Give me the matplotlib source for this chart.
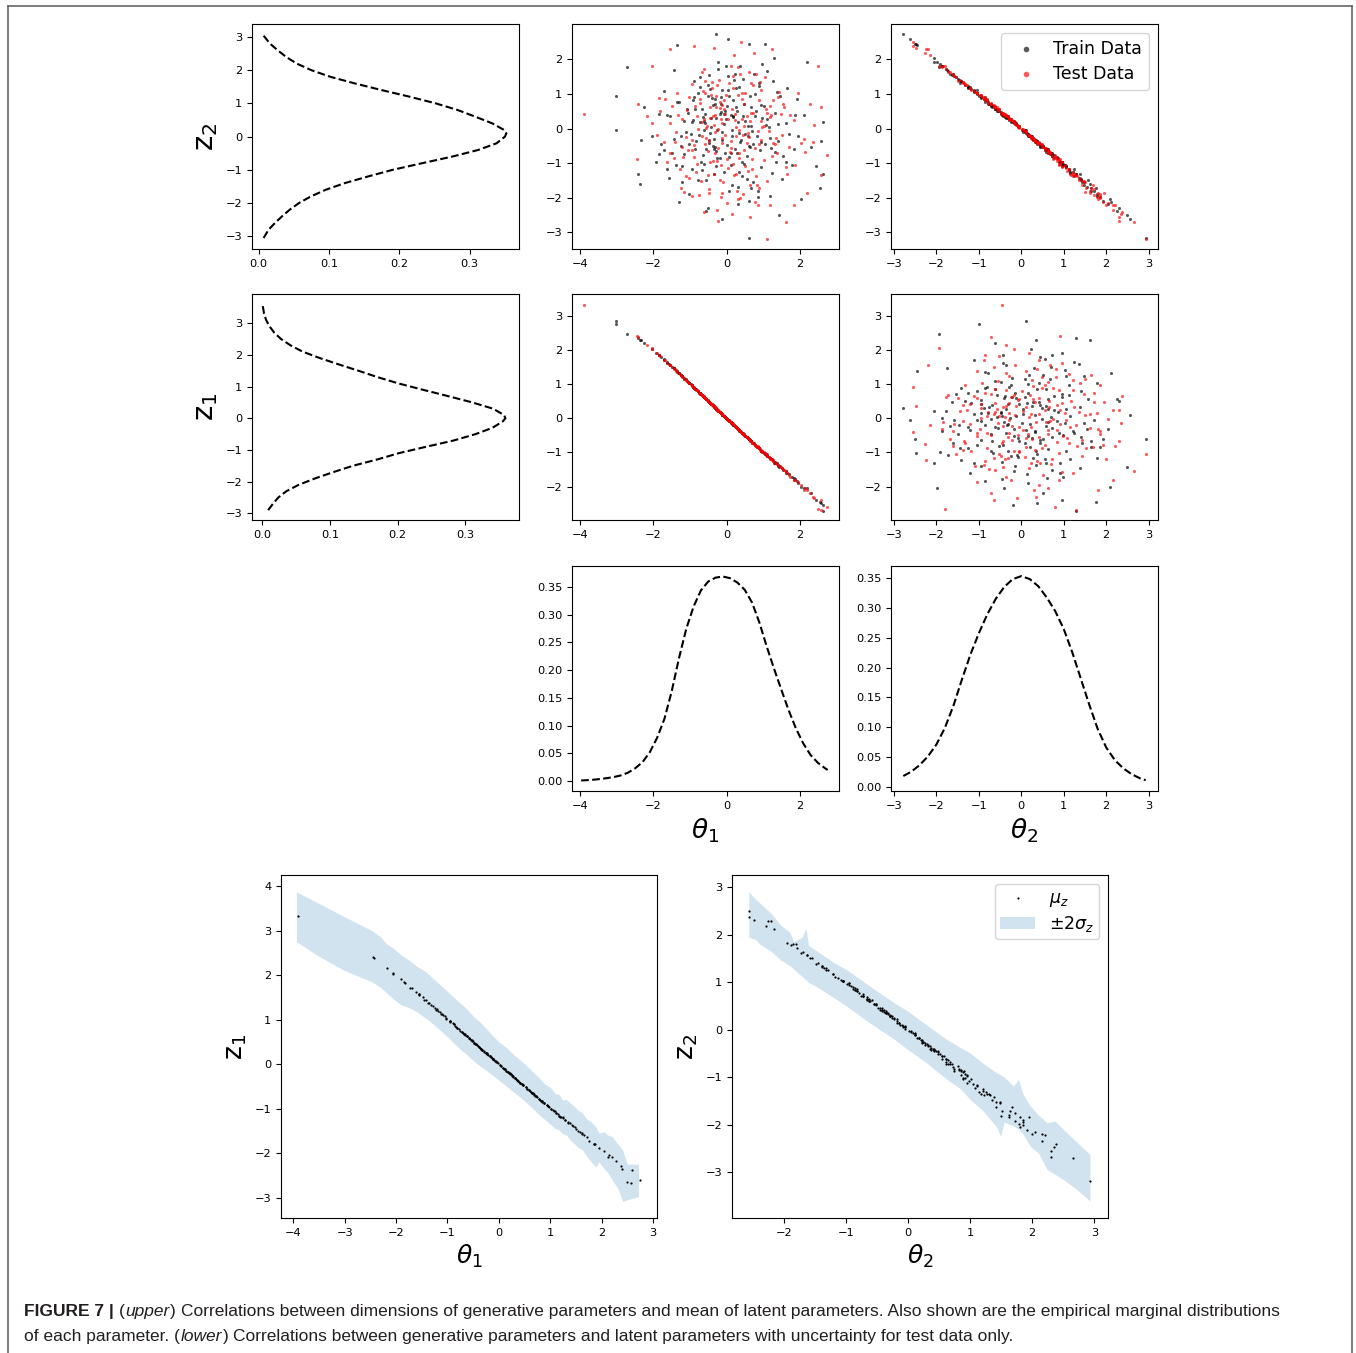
import matplotlib
matplotlib.use("Agg")
import matplotlib.pyplot as plt
from matplotlib.lines import Line2D

# ---------------- data ----------------
# train points: theta1, theta2 (generative params) and z1, z2 (latent means)
tr_t1 = [-3.02, -3.02, -2.72, -2.38, -2.42, -1.35, -0.30, 0.05, 0.62, 1.05,
         2.20, 2.65, 2.60, 2.65, 2.55, 2.05, 1.45, 0.62, -0.12, -1.30,
         -0.50, 1.30,
         -0.42, -0.55, 0.18, 0.73, -1.12, 0.35, -0.08, 1.04, -0.77, 0.52,
         -1.48, 0.21, 1.36, -0.33, 0.89, -1.85, 0.02, -0.61, 1.62, -0.95,
         0.44, -0.19, 1.18, -1.31, 0.67, -0.48, 1.85, -0.26, 0.11, -0.84,
         0.95, -1.62, 0.29, -0.13, 1.47, -0.71, 0.58, -1.05, 0.06, -0.38,
         2.12, -2.05, 0.81, -0.56, 0.37, -1.24, 1.26, -0.02, 0.49, -0.89,
         1.71, -1.71, 0.16, -0.45, 0.92, -0.67, 1.09, -0.22, 0.63, -1.38,
         0.25, -0.98, 1.52, -0.35, 0.74, -1.92, 0.41, -0.15, 1.93, -0.79,
         0.08, -1.16, 0.56, -0.52, 1.22, -0.28, 0.98, -1.55, 0.33, -0.64,
         1.67, -0.11, 0.71, -2.25, 0.13, -0.91, 1.41, -0.43, 0.86, -1.21,
         0.47, -0.05, 2.31, -0.72, 0.22, -1.45, 1.11, -0.31, 0.61, -0.86,
         1.78, -0.47, 0.31, -1.02, 0.04, 1.32, -0.58, 0.83, -1.78, 0.19,
         -0.35, 0.28, -0.72, 0.95, -0.15, 0.42, -1.02, 0.15, -0.52, 1.12,
         -0.62, 0.05, 0.78, -1.25, 0.32, -0.28, 1.42, -0.85, 0.55, -0.05,
         -1.58, 0.68, -0.41, 1.25, -0.92, 0.12, -0.22, 0.88, -1.35, 0.38,
         -0.08, 1.55, -0.65, 0.22, -1.72, 0.95, -0.31, 0.61, -0.95, 1.88,
         -0.45, 0.35, -1.15, 0.72, -0.18, 1.05, -0.75, 0.02, 1.38, -0.55,
         0.18, -0.88, 0.58, -0.25, 1.62, -1.45, 0.45, -0.12, 0.85, -0.68,
         1.15, -0.38, 0.25, -2.35, 0.65, -0.58, 1.95, -0.15, 0.42, -1.08,
         0.08, -0.72, 1.32, -0.32, 0.78, -1.62, 0.15, -0.48, 2.45, -0.02,
         0.52, -1.22, -0.28, 0.98, -0.62, 0.32, -1.85, 1.18, -0.08, 0.68]
tr_t2 = [-1.00, 0.12, -1.95, 1.62, 1.30, -2.45, -2.78, -2.62, -2.50, -2.48,
         -1.98, -0.20, 0.36, 1.30, 1.75, 2.10, 2.48, 2.93, 2.55, 2.12,
         2.30, -2.05,
         -0.31, 0.62, -0.85, 0.44, 0.08, 1.21, -0.12, -0.66, -1.04, 0.15,
         0.71, -1.46, 0.92, 1.38, -1.25, -0.42, 0.49, -0.22, -0.18, 1.12,
         -0.37, 0.86, 0.27, -0.78, 1.64, -1.63, 0.61, 0.05, -0.41, 0.36,
         1.05, 1.24, 0.73, -1.12, -0.94, 0.95, -0.08, -0.47, 1.72, -0.68,
         -0.41, 0.22, -0.52, 1.56, -1.88, 0.51, -1.41, -0.27, 0.98, -1.42,
         0.14, -1.12, 0.21, 0.14, 0.62, -0.58, -0.11, -1.77, -0.96, 1.02,
         -0.62, 0.15, 1.38, 0.58, -1.62, 0.95, 0.32, -0.48, -0.86, 1.41,
         -0.95, -0.21, 1.41, -0.95, 0.55, 1.05, -0.31, -0.35, -1.22, 0.77,
         -1.21, 0.33, 0.08, -0.62, 1.02, -0.82, 0.35, -0.05, 1.85, 1.48,
         -0.71, 0.71, 0.52, -1.25, 0.58, 0.29, -1.72, -0.87, 0.51, 0.58,
         0.98, 0.42, -0.18, 1.78, -1.58, -0.45, -0.41, 0.21, 0.45, -0.33,
         0.25, -0.55, -0.15, 0.35, -0.78, 0.88, 0.42, 0.02, -1.32, -0.25,
         0.95, -1.05, -0.42, 0.18, 1.55, -0.35, -0.15, -0.62, 0.72, -0.58,
         1.35, -0.05, -0.95, 1.15, -0.28, 0.62, -2.05, -1.45, -0.85, 0.32,
         1.15, 0.72, -0.38, -1.68, 0.55, -0.72, 0.48, 1.92, -0.25, -0.45,
         -1.18, 0.12, 0.68, 1.42, -0.48, 0.38, 0.15, -0.72, -1.12, 2.25,
         -0.32, -0.85, 0.25, 0.78, 0.92, -1.75, -1.48, 0.05, 1.65, 1.12,
         -0.08, 0.45, -1.25, 0.35, 0.45, -0.12, 0.15, -0.95, 1.25, -0.62,
         0.85, -1.55, 0.58, -0.75, -1.05, -0.42, 1.48, 0.28, 0.95, -1.88,
         -0.18, 1.05, 0.62, -1.92, 0.08, 2.05, 0.72, 1.78, -0.45, -0.68]
tr_z1 = [2.75, 2.86, 2.48, 2.30, 2.36, 1.38, 0.31, -0.05, -0.62, -1.02,
         -2.05, -2.55, -2.48, -2.72, -2.45, -2.00, -1.42, -0.60, 0.11, 1.32,
         0.50, -1.30,
         0.43, 0.56, -0.19, -0.72, 1.14, -0.36, 0.08, -1.02, 0.79, -0.52,
         1.50, -0.21, -1.31, 0.34, -0.88, 1.86, -0.02, 0.62, -1.55, 0.97,
         -0.44, 0.19, -1.15, 1.33, -0.66, 0.49, -1.76, 0.26, -0.11, 0.85,
         -0.95, 1.64, -0.29, 0.13, -1.41, 0.72, -0.58, 1.07, -0.06, 0.38,
         -2.05, 2.02, -0.80, 0.57, -0.37, 1.26, -1.22, 0.02, -0.49, 0.90,
         -1.64, 1.72, -0.16, 0.45, -0.91, 0.68, -1.07, 0.22, -0.63, 1.40,
         -0.25, 0.99, -1.47, 0.35, -0.73, 1.90, -0.41, 0.15, -1.85, 0.80,
         -0.08, 1.18, -0.56, 0.53, -1.18, 0.28, -0.97, 1.57, -0.33, 0.65,
         -1.60, 0.11, -0.71, 2.20, -0.13, 0.92, -1.36, 0.43, -0.85, 1.23,
         -0.47, 0.05, -2.20, 0.73, -0.22, 1.47, -1.08, 0.31, -0.61, 0.87,
         -1.72, 0.47, -0.31, 1.04, -0.04, -1.28, 0.58, -0.83, 1.79, -0.19,
         0.35, -0.28, 0.73, -0.95, 0.15, -0.42, 1.04, -0.15, 0.52, -1.10,
         0.62, -0.05, -0.78, 1.26, -0.32, 0.28, -1.40, 0.86, -0.55, 0.05,
         1.60, -0.68, 0.41, -1.20, 0.93, -0.12, 0.22, -0.88, 1.36, -0.38,
         0.08, -1.52, 0.65, -0.22, 1.73, -0.95, 0.31, -0.61, 0.96, -1.78,
         0.45, -0.35, 1.16, -0.72, 0.18, -1.04, 0.75, -0.02, -1.32, 0.55,
         -0.18, 0.89, -0.58, 0.25, -1.60, 1.46, -0.45, 0.12, -0.85, 0.68,
         -1.12, 0.38, -0.25, 2.28, -0.65, 0.58, -1.90, 0.15, -0.42, 1.09,
         -0.08, 0.72, -1.30, 0.32, -0.78, 1.63, -0.15, 0.48, -2.38, 0.02,
         -0.52, 1.23, 0.28, -0.98, 0.62, -0.32, 1.85, -1.15, 0.08, -0.68]
tr_z2 = [0.95, -0.05, 1.78, -1.60, -1.30, 2.40, 2.72, 2.60, 2.45, 2.45,
         1.92, 0.20, -0.35, -1.30, -1.72, -2.05, -2.50, -3.15, -2.60, -2.12,
         -2.30, 2.05,
         0.30, -0.60, 0.83, -0.45, -0.09, -1.27, 0.12, 0.64, 1.02, -0.16,
         -0.70, 1.40, -0.98, -1.30, 1.22, 0.41, -0.49, 0.22, 0.17, -1.18,
         0.36, -0.84, -0.28, 0.77, -1.72, 1.55, -0.60, -0.05, 0.40, -0.36,
         -1.12, -1.18, -0.72, 1.10, 0.93, -0.97, 0.08, 0.46, -1.80, 0.67,
         0.40, -0.22, 0.51, -1.48, 1.82, -0.51, 1.36, 0.27, -1.02, 1.38,
         -0.15, 1.08, -0.21, -0.14, -0.62, 0.57, 0.11, 1.72, 0.95, -1.06,
         0.61, -0.15, -1.47, -0.58, 1.58, -0.97, -0.32, 0.47, 0.85, -1.49,
         0.93, 0.21, -1.46, 0.94, -0.55, -1.09, 0.31, 0.35, 1.19, -0.77,
         1.18, -0.33, -0.08, 0.61, -1.05, 0.81, -0.35, 0.05, -1.98, -1.55,
         0.70, -0.70, -0.52, 1.21, -0.58, -0.29, 1.67, 0.86, -0.51, -0.58,
         -1.06, -0.42, 0.18, -1.88, 1.52, 0.45, 0.41, -0.21, -0.45, 0.33,
         -0.29, 0.50, 0.19, -0.38, 0.70, -0.97, -0.46, -0.03, 1.25, 0.28,
         -1.02, 1.10, 0.35, -0.22, -1.68, 0.30, 0.12, 0.55, -0.80, 0.52,
         -1.42, 0.08, 0.88, -1.28, 0.25, -0.70, 1.92, 1.32, 0.78, -0.38,
         -1.25, -0.80, 0.32, 1.58, -0.62, 0.68, -0.54, -2.08, 0.20, 0.40,
         1.15, -0.14, -0.75, -1.55, 0.43, -0.44, -0.18, 0.66, 1.05, -2.38,
         0.37, 0.90, -0.22, -0.85, -0.98, 1.70, 1.42, -0.10, -1.80, -1.20,
         0.04, -0.50, 1.18, -0.33, -0.52, 0.16, -0.22, 0.92, -1.38, 0.55,
         -0.82, 1.50, -0.68, 0.72, 1.00, 0.38, -1.62, -0.32, -1.08, 1.80,
         0.22, -1.08, -0.66, 1.85, -0.05, -2.18, -0.75, -1.95, 0.42, 0.62]

# test points
te_t1 = [-3.90, -2.05, -0.90, 0.40, 2.50, 2.75, 2.20, 1.62, 1.10, 0.65,
         -0.22, -0.62, -2.45, -2.42, 1.20, 2.60, 0.85, 1.25, 2.12, 2.40,
         2.58, -0.35, 0.75, -1.55, 0.20, -0.48, 0.32, -1.15, 1.85,
         0.12, -0.66, 0.48, -0.25, 1.15, -1.08, 0.71, -0.41, 1.58, -1.42,
         0.27, -0.09, 0.93, -0.83, 1.38, -1.68, 0.55, -0.18, 0.02, -0.56,
         1.86, -1.25, 0.38, -0.72, 1.02, -0.32, 0.64, -1.91, 0.21, -0.95,
         1.44, -0.14, 0.79, -1.18, 0.31, -0.48, 2.05, -0.62, 1.21, -1.55,
         0.09, -0.37, 0.88, -0.88, 1.65, -0.21, 0.45, -1.35, 0.66, -0.04,
         1.12, -0.78, 0.18, -2.18, 0.98, -0.51, 1.51, -1.02, 0.35, -0.29,
         0.72, -1.62, 0.15, -0.69, 1.28, -0.12, 0.58, -1.11, 0.84, -0.44,
         1.95, -0.95, 0.26, -0.34, 1.06, -1.48, 0.42, -0.58, 1.72, -0.06,
         0.69, -1.28, 0.11, -0.81, 1.34, -0.23, 0.52, -1.82, 0.94, -0.46,
         0.23, -1.05, 1.18, -0.15, 0.61, -0.68, 1.48, -0.39, 0.81, -1.21,
         0.33, -0.53, 2.28, -0.11, 0.47,
         0.22, -0.48, 0.85, -0.12, -0.88, 0.52, -0.32, 1.28, -0.65, 0.05,
         -1.32, 0.42, -0.18, 0.95, -0.55, 1.62, -0.95, 0.28, -0.02, 0.72,
         -0.38, 1.08, -1.72, 0.18, -0.72, 0.62, -0.25, 1.42, -1.12, 0.35,
         -0.05, 0.88, -0.58, 1.75, -0.15, -1.38, 0.48, -0.82, 0.12, 2.38,
         0.65, -0.28, 1.25, -1.55, 0.05, -0.42, 0.95, -0.12, 1.88, -0.68,
         0.32, -0.95, 0.78, -0.22, 1.12, -0.52, 0.18, -2.05, 0.55, -0.35,
         1.55, -0.12, 0.42, -1.22, 0.88, -0.62, 0.02, 1.02, -0.85, 0.25,
         -0.45, 0.68, -1.85, 0.15, 1.35, -0.25, 0.58, -1.02, 2.15, -0.08,
         0.45, -0.75, 1.18, -0.32, 0.08, -1.45, 0.82, -0.18, 0.38, -0.58]
te_t2 = [-0.45, -1.95, -2.55, -2.55, -1.80, 0.80, 1.80, 2.65, 2.93, 2.30,
         2.30, 2.38, 0.90, -0.72, 2.00, -0.65, 2.20, -2.25, 0.30, -0.10,
         1.30, -2.48, -2.28, -2.20, -2.15, 1.95, 1.80, 1.50, 2.15,
         0.35, -0.18, -0.72, 0.92, 0.08, -0.55, 1.12, -1.21, -0.62, 0.38,
         -0.05, 1.49, -1.38, 1.21, 0.71, -0.88, 0.42, -0.61, 2.05, 0.28,
         -0.25, 1.65, -1.62, -0.85, 0.88, 0.11, -0.22, 0.18, 1.28, -1.32,
         -1.08, -0.28, 0.55, 0.82, -0.98, 1.72, 0.42, -1.78, -0.38, -0.15,
         0.68, -0.35, -0.82, 0.48, 1.21, -1.45, 1.85, -1.05, -1.35, 0.18,
         1.42, 0.02, -1.21, -0.35, -0.05, 0.65, 0.18, -0.92, 0.85, -0.95,
         -0.45, 0.95, -0.55, 1.48, -0.85, 0.41, 0.12, 0.25, 1.68, -0.62,
         -1.05, 1.85, 0.22, 1.25, -1.55, -0.65, -0.28, -1.05, 0.52, -0.82,
         0.85, 1.12, -1.85, -0.35, 0.45, 0.55, -1.05, -0.52, 0.32, 0.95,
         -0.42, 0.62, -0.65, 1.02, -1.68, 0.21, -0.42, -1.38, 1.32, -0.28,
         0.05, -0.08, -0.72, -0.15, 0.62,
         -0.22, 0.32, 0.12, -0.65, 0.75, 0.98, -0.42, 0.38, -1.12, 1.05,
         -0.35, -0.82, 1.35, -0.18, -0.05, 0.95, 0.55, 1.62, -0.95, -1.32,
         0.85, -0.52, 0.42, -1.58, -0.72, 0.25, 2.15, -0.88, 1.22, 0.62,
         -0.38, 0.48, -1.48, -0.35, 1.78, 0.12, -0.08, 0.88, 0.58, 0.35,
         1.42, -0.58, 0.72, 0.68, -0.28, -0.95, -1.18, 0.22, 0.88, -1.72,
         -1.88, 0.28, 1.92, 0.05, -0.48, 1.18, 0.92, -0.18, -0.32, -0.12,
         -0.75, 1.62, -1.05, 0.48, 1.52, -0.25, 0.75, -0.05, -0.62, 1.15,
         -0.28, -0.42, -0.85, 2.35, 0.22, -1.28, 1.08, 1.38, 0.62, -0.52,
         0.15, 1.72, -0.32, 0.65, -1.38, 0.82, -1.62, -0.78, 1.85, 0.42]
te_z1 = [3.33, 2.05, 0.92, -0.40, -2.65, -2.60, -2.10, -1.55, -1.06, -0.66,
         0.24, 0.64, 2.40, 2.38, -1.18, -2.38, -0.82, -1.22, -2.10, -2.35,
         -2.68, 0.35, -0.75, 1.57, -0.20, 0.48, -0.32, 1.16, -1.80,
         -0.12, 0.67, -0.48, 0.25, -1.13, 1.10, -0.71, 0.41, -1.53, 1.44,
         -0.27, 0.09, -0.92, 0.84, -1.33, 1.70, -0.55, 0.18, -0.02, 0.56,
         -1.80, 1.27, -0.38, 0.73, -1.01, 0.32, -0.64, 1.92, -0.21, 0.96,
         -1.39, 0.14, -0.79, 1.20, -0.31, 0.48, -1.96, 0.63, -1.18, 1.57,
         -0.09, 0.37, -0.87, 0.89, -1.59, 0.21, -0.45, 1.37, -0.66, 0.04,
         -1.10, 0.79, -0.18, 2.15, -0.97, 0.51, -1.46, 1.04, -0.35, 0.29,
         -0.72, 1.63, -0.15, 0.70, -1.25, 0.12, -0.58, 1.13, -0.84, 0.44,
         -1.88, 0.96, -0.26, 0.34, -1.04, 1.50, -0.42, 0.58, -1.65, 0.06,
         -0.69, 1.30, -0.11, 0.82, -1.30, 0.23, -0.52, 1.83, -0.93, 0.46,
         -0.23, 1.07, -1.16, 0.15, -0.61, 0.68, -1.42, 0.39, -0.81, 1.23,
         -0.33, 0.53, -2.18, 0.11, -0.47,
         -0.22, 0.48, -0.85, 0.12, 0.89, -0.52, 0.32, -1.25, 0.65, -0.05,
         1.33, -0.42, 0.18, -0.95, 0.55, -1.58, 0.96, -0.28, 0.02, -0.72,
         0.38, -1.06, 1.72, -0.18, 0.72, -0.62, 0.25, -1.38, 1.12, -0.35,
         0.05, -0.88, 0.58, -1.72, 0.15, 1.38, -0.48, 0.82, -0.12, -2.30,
         -0.65, 0.28, -1.20, 1.55, -0.05, 0.42, -0.95, 0.12, -1.80, 0.68,
         -0.32, 0.95, -0.78, 0.22, -1.10, 0.52, -0.18, 2.02, -0.55, 0.35,
         -1.50, 0.12, -0.42, 1.22, -0.88, 0.62, -0.02, -1.00, 0.85, -0.25,
         0.45, -0.68, 1.85, -0.15, -1.32, 0.25, -0.58, 1.02, -2.05, 0.08,
         -0.45, 0.75, -1.16, 0.32, -0.08, 1.45, -0.82, 0.18, -0.38, 0.58]
te_z2 = [0.42, 1.82, 2.38, 2.50, 1.80, -0.77, -1.85, -2.70, -3.18, -2.55,
         -2.68, -2.40, -0.88, 0.70, -2.20, 0.62, -2.22, 2.30, -0.30, 0.10,
         -1.35, 2.32, 2.18, 2.30, 2.12, -1.85, -2.05, -1.82, -2.20,
         -0.35, 0.18, 0.71, -0.94, -0.08, 0.54, -1.18, 1.18, 0.61, -0.38,
         0.05, -1.55, 1.34, -1.26, -0.72, 0.86, -0.42, 0.60, -2.15, -0.28,
         0.25, -1.72, 1.57, 0.84, -0.90, -0.11, 0.22, -0.18, -1.35, 1.29,
         1.05, 0.28, -0.55, -0.83, 0.97, -1.76, -0.42, 1.72, 0.38, 0.15,
         -0.68, 0.35, 0.81, -0.48, -1.30, 1.40, -1.90, 1.03, 1.31, -0.18,
         -1.52, -0.02, 1.18, 0.35, 0.05, -0.65, -0.18, 0.91, -0.86, 0.94,
         0.45, -0.97, 0.55, -1.52, 0.83, -0.41, -0.12, -0.25, -1.62, 0.61,
         1.03, -1.95, -0.22, -1.31, 1.50, 0.64, 0.28, 1.03, -0.52, 0.81,
         -0.87, -1.16, 1.80, 0.35, -0.45, -0.55, 1.03, 0.51, -0.32, -0.96,
         0.42, -0.62, 0.64, -1.04, 1.63, -0.21, 0.42, 1.34, -1.38, 0.28,
         -0.05, 0.08, 0.71, 0.15, -0.62,
         0.25, -0.35, -0.08, 0.68, -0.82, -1.08, 0.40, -0.42, 1.08, -1.15,
         0.38, 0.85, -1.48, 0.22, 0.02, -1.12, -0.62, -1.80, 0.98, 1.25,
         -0.95, 0.55, -0.40, 1.52, 0.75, -0.25, -2.35, 0.90, -1.38, -0.72,
         0.42, -0.45, 1.38, 0.40, -1.98, -0.10, 0.06, -1.02, -0.55, -0.40,
         -1.62, 0.62, -0.78, -0.72, 0.28, 0.98, 1.12, -0.26, -1.05, 1.62,
         1.78, -0.32, -2.12, -0.02, 0.45, -1.35, -1.02, 0.15, 0.35, 0.10,
         0.72, -1.85, 1.02, -0.52, -1.72, 0.28, -0.88, 0.08, 0.65, -1.32,
         0.30, 0.45, 0.88, -2.48, -0.28, 1.25, -1.22, -1.42, -0.68, 0.55,
         -0.18, -1.92, 0.32, -0.72, 1.32, -0.85, 1.58, 0.78, -2.02, -0.45]

# marginal densities
z2_grid = [-3.05, -2.8, -2.6, -2.4, -2.2, -2.0, -1.8, -1.6, -1.4, -1.2,
           -1.0, -0.8, -0.6, -0.4, -0.2, 0.0, 0.1, 0.2, 0.4, 0.6,
           0.8, 1.0, 1.2, 1.4, 1.6, 1.8, 2.0, 2.2, 2.4, 2.6,
           2.8, 3.04]
z2_dens = [0.007, 0.014, 0.023, 0.033, 0.044, 0.057, 0.074, 0.095, 0.122, 0.155,
           0.19, 0.232, 0.275, 0.312, 0.338, 0.350, 0.352, 0.349, 0.332, 0.308,
           0.283, 0.252, 0.215, 0.175, 0.137, 0.102, 0.075, 0.054, 0.039, 0.027,
           0.016, 0.007]
z1_grid = [-2.9, -2.7, -2.5, -2.3, -2.1, -1.9, -1.7, -1.5, -1.3, -1.1,
           -0.9, -0.7, -0.5, -0.3, -0.1, 0.0, 0.1, 0.3, 0.5, 0.7,
           0.9, 1.1, 1.3, 1.5, 1.7, 1.9, 2.1, 2.3, 2.5, 2.7,
           2.9, 3.1, 3.3, 3.55]
z1_dens = [0.009, 0.016, 0.024, 0.036, 0.054, 0.078, 0.105, 0.134, 0.17, 0.202,
           0.242, 0.283, 0.315, 0.34, 0.355, 0.359, 0.357, 0.341, 0.31, 0.274,
           0.237, 0.201, 0.17, 0.142, 0.113, 0.085, 0.06, 0.042, 0.028, 0.018,
           0.011, 0.006, 0.003, 0.001]
th1_grid = [-3.98, -3.7, -3.4, -3.1, -2.9, -2.7, -2.5, -2.3, -2.1, -1.9,
            -1.7, -1.5, -1.3, -1.1, -0.9, -0.7, -0.5, -0.3, -0.1, 0.1,
            0.3, 0.5, 0.7, 0.9, 1.1, 1.3, 1.5, 1.7, 1.9, 2.1,
            2.3, 2.5, 2.7, 2.77]
th1_dens = [0.001, 0.002, 0.004, 0.007, 0.010, 0.015, 0.023, 0.034, 0.052, 0.078,
            0.112, 0.162, 0.222, 0.275, 0.315, 0.344, 0.360, 0.367, 0.369, 0.366,
            0.358, 0.345, 0.322, 0.286, 0.243, 0.203, 0.165, 0.128, 0.095, 0.068,
            0.047, 0.033, 0.023, 0.020]
th2_grid = [-2.78, -2.6, -2.4, -2.2, -2.0, -1.8, -1.6, -1.4, -1.2, -1.0,
            -0.8, -0.6, -0.4, -0.2, 0.0, 0.2, 0.4, 0.6, 0.8, 1.0,
            1.2, 1.4, 1.6, 1.8, 2.0, 2.2, 2.4, 2.6, 2.8, 2.93]
th2_dens = [0.018, 0.025, 0.036, 0.051, 0.071, 0.099, 0.136, 0.180, 0.222, 0.258,
            0.290, 0.316, 0.336, 0.349, 0.354, 0.349, 0.337, 0.318, 0.295, 0.265,
            0.226, 0.182, 0.138, 0.097, 0.066, 0.045, 0.031, 0.021, 0.014, 0.011]

# +/- 2 sigma bands (test data)
band1_t = [-3.94, -3.5, -3.0, -2.47, -2.3, -2.2, -2.05, -1.9, -1.75, -1.6,
           -1.45, -1.37, -1.2, -1.1, -0.95, -0.8, -0.65, -0.5, -0.35, -0.2,
           0.0, 0.15, 0.3, 0.45, 0.6, 0.75, 0.9, 1.0, 1.1, 1.17,
           1.24, 1.32, 1.4, 1.48, 1.55, 1.62, 1.7, 1.8, 1.89, 1.95,
           2.05, 2.13, 2.21, 2.32, 2.41, 2.5, 2.6, 2.72]
band1_hi = [3.87, 3.61, 3.31, 3.0, 2.86, 2.72, 2.60, 2.45, 2.34, 2.2,
            2.10, 2.02, 1.84, 1.74, 1.58, 1.42, 1.27, 1.08, 0.93, 0.74,
            0.50, 0.37, 0.2, 0.06, -0.1, -0.27, -0.45, -0.52, -0.66, -0.68,
            -0.80, -0.80, -0.88, -0.96, -1.05, -1.08, -1.22, -1.3, -1.41, -1.55,
            -1.52, -1.60, -1.63, -1.8, -1.93, -2.25, -2.25, -2.25]
band1_lo = [2.75, 2.42, 2.10, 1.85, 1.72, 1.62, 1.46, 1.33, 1.27, 1.18,
            1.05, 0.99, 0.82, 0.72, 0.56, 0.38, 0.24, 0.08, -0.06, -0.18,
            -0.36, -0.50, -0.64, -0.78, -0.93, -1.10, -1.25, -1.35, -1.45, -1.48,
            -1.56, -1.60, -1.72, -1.80, -1.88, -1.92, -2.05, -2.2, -2.31, -2.2,
            -2.35, -2.45, -2.61, -2.8, -3.09, -3.05, -3.02, -2.98]
band2_t = [-2.56, -2.45, -2.38, -2.2, -2.05, -1.9, -1.84, -1.7, -1.64, -1.6,
           -1.4, -1.2, -0.98, -0.7, -0.45, -0.2, 0.0, 0.3, 0.63, 0.85,
           1.0, 1.2, 1.43, 1.49, 1.55, 1.7, 1.78, 1.85, 1.97, 2.1,
           2.24, 2.37, 2.5, 2.7, 2.93]
band2_hi = [2.91, 2.75, 2.67, 2.45, 2.21, 2.05, 1.86, 1.95, 2.14, 1.78,
            1.6, 1.42, 1.26, 1.0, 0.77, 0.55, 0.39, 0.1, -0.21, -0.38,
            -0.49, -0.7, -0.91, -0.95, -1.0, -1.19, -1.05, -1.35, -1.61, -1.8,
            -1.96, -1.93, -2.1, -2.35, -2.63]
band2_lo = [1.95, 1.9, 1.8, 1.65, 1.47, 1.35, 1.28, 1.12, 1.05, 1.0,
            0.85, 0.68, 0.49, 0.22, 0.0, -0.22, -0.42, -0.7, -1.05, -1.25,
            -1.47, -1.7, -2.05, -2.25, -1.95, -2.03, -2.1, -2.2, -2.46, -2.6,
            -2.95, -3.05, -3.16, -3.35, -3.61]

caption1 = [("FIGURE 7 |", "bold", "normal", True),
            ("(", "normal", "normal", False),
            ("upper", "normal", "italic", False),
            (")", "normal", "normal", True),
            ("Correlations between dimensions of generative parameters and mean of "
             "latent parameters. Also shown are the empirical marginal distributions",
             "normal", "normal", False)]
caption2 = [("of each parameter.", "normal", "normal", True),
            ("(", "normal", "normal", False),
            ("lower", "normal", "italic", False),
            (")", "normal", "normal", True),
            ("Correlations between generative parameters and latent parameters with "
             "uncertainty for test data only.", "normal", "normal", False)]

# ---------------- figure ----------------
W, H = 1356, 1353
plt.rcParams['xtick.labelsize'] = 8.2
plt.rcParams['ytick.labelsize'] = 8.2
fig = plt.figure(figsize=(W / 100, H / 100), dpi=100)


def box(x0, y0, x1, y1):
    return [x0 / W, 1 - y1 / H, (x1 - x0) / W, (y1 - y0) / H]


ax11 = fig.add_axes(box(252, 24, 519, 249))
ax12 = fig.add_axes(box(572, 24, 839, 249))
ax13 = fig.add_axes(box(891, 24, 1158, 249))
ax21 = fig.add_axes(box(252, 294, 519, 520))
ax22 = fig.add_axes(box(572, 294, 839, 520))
ax23 = fig.add_axes(box(891, 294, 1158, 520))
ax32 = fig.add_axes(box(572, 566, 839, 791))
ax33 = fig.add_axes(box(891, 566, 1158, 791))
axb1 = fig.add_axes(box(281, 875, 657, 1218))
axb2 = fig.add_axes(box(732, 875, 1108, 1218))

lim_t1 = (-4.23, 3.08)
lim_t2 = (-3.07, 3.22)
lim_z1 = (-2.98, 3.64)
lim_z2 = (-3.48, 3.02)


def pairs(ax, xtr, ytr, xte, yte):
    ax.scatter(xtr, ytr, s=5, c='k', alpha=0.65, linewidths=0, label='Train Data')
    ax.scatter(xte, yte, s=5, c='red', alpha=0.65, linewidths=0, label='Test Data')


# marginals of z
ax11.plot(z2_dens, z2_grid, 'k--', lw=1.5)
ax11.set_xlim(-0.0095, 0.370)
ax11.set_ylim(-3.38, 3.39)
ax11.set_xticks([0.0, 0.1, 0.2, 0.3])
ax11.set_ylabel('z$_2$', fontsize=21)

ax21.plot(z1_dens, z1_grid, 'k--', lw=1.5)
ax21.set_xlim(-0.0148, 0.379)
ax21.set_ylim(-3.21, 3.92)
ax21.set_xticks([0.0, 0.1, 0.2, 0.3])
ax21.set_ylabel('z$_1$', fontsize=21)

# scatter panels
pairs(ax12, tr_t1, tr_z2, te_t1, te_z2)
pairs(ax13, tr_t2, tr_z2, te_t2, te_z2)
pairs(ax22, tr_t1, tr_z1, te_t1, te_z1)
pairs(ax23, tr_t2, tr_z1, te_t2, te_z1)
for ax in (ax12, ax22):
    ax.set_xlim(*lim_t1)
    ax.set_xticks([-4, -2, 0, 2])
for ax in (ax13, ax23):
    ax.set_xlim(*lim_t2)
    ax.set_xticks([-3, -2, -1, 0, 1, 2, 3])
for ax in (ax12, ax13):
    ax.set_ylim(*lim_z2)
    ax.set_yticks([-3, -2, -1, 0, 1, 2])
for ax in (ax22, ax23):
    ax.set_ylim(*lim_z1)
    ax.set_yticks([-2, -1, 0, 1, 2, 3])
ax13.legend(loc='upper right', fontsize=12.5, markerscale=1.8,
            handletextpad=0.6, labelspacing=0.4, borderpad=0.4, framealpha=0.8)

# marginals of theta
ax32.plot(th1_grid, th1_dens, 'k--', lw=1.5)
ax32.set_xlim(*lim_t1)
ax32.set_ylim(-0.018, 0.388)
ax32.set_xticks([-4, -2, 0, 2])
ax32.set_xlabel(r'$\theta_1$', fontsize=19)

ax33.plot(th2_grid, th2_dens, 'k--', lw=1.5)
ax33.set_xlim(*lim_t2)
ax33.set_ylim(-0.0072, 0.371)
ax33.set_xticks([-3, -2, -1, 0, 1, 2, 3])
ax33.set_xlabel(r'$\theta_2$', fontsize=19)

# lower panels: test data with uncertainty
axb1.fill_between(band1_t, band1_lo, band1_hi, color='C0', alpha=0.2, lw=0)
axb1.scatter(te_t1, te_z1, s=2.5, c='k', linewidths=0)
axb1.set_xlim(-4.24, 3.08)
axb1.set_ylim(-3.46, 4.25)
axb1.set_xticks(range(-4, 4))
axb1.set_yticks(range(-3, 5))
axb1.set_xlabel(r'$\theta_1$', fontsize=18)
axb1.set_ylabel('z$_1$', fontsize=19)

band = axb2.fill_between(band2_t, band2_lo, band2_hi, color='C0', alpha=0.2, lw=0,
                         label=r'$\pm2\sigma_z$')
mu = axb2.scatter(te_t2, te_z2, s=2.5, c='k', linewidths=0, label=r'$\mu_z$')
axb2.set_xlim(-2.83, 3.22)
axb2.set_ylim(-3.97, 3.26)
axb2.set_xticks(range(-2, 4))
axb2.set_yticks(range(-3, 4))
axb2.set_xlabel(r'$\theta_2$', fontsize=18)
axb2.set_ylabel('z$_2$', fontsize=19)
axb2.legend(handles=[mu, band], loc='upper right', fontsize=12.5, markerscale=1.0,
            handletextpad=0.8, labelspacing=0.3, borderpad=0.3, framealpha=0.8)

# frame around the figure
frame = dict(color='#666666', lw=1.2)
fig.add_artist(Line2D([8 / W, 1352 / W], [1 - 6 / H, 1 - 6 / H], **frame))
fig.add_artist(Line2D([8 / W, 8 / W], [0, 1 - 6 / H], **frame))
fig.add_artist(Line2D([1352 / W, 1352 / W], [0, 1 - 6 / H], **frame))

# caption (bold / italic pieces laid out one after another)
renderer = fig.canvas.get_renderer()


def text_width(s, fs, weight, style):
    t = fig.text(0, 0, s, fontsize=fs, family='Liberation Sans',
                 fontweight=weight, fontstyle=style)
    w = t.get_window_extent(renderer).width
    t.remove()
    return w


def caption_line(parts, y_img, fs, draw=True):
    x = 24.0
    space = text_width('a a', fs, 'normal', 'normal') - text_width('aa', fs, 'normal', 'normal')
    for s, weight, style, gap in parts:
        if draw:
            fig.text(x / W, 1 - y_img / H, s, fontsize=fs, family='Liberation Sans',
                     fontweight=weight, fontstyle=style, color='#231f20', va='baseline')
        x += text_width(s, fs, weight, style) + (space if gap else 0.6)
    return x - 24.0


fs0 = 12.0
fs = fs0 * 1255.0 / caption_line(caption1, 1316, fs0, draw=False)
caption_line(caption1, 1316, fs)
caption_line(caption2, 1341, fs)

fig.savefig('out.png', dpi=100, facecolor='white')
